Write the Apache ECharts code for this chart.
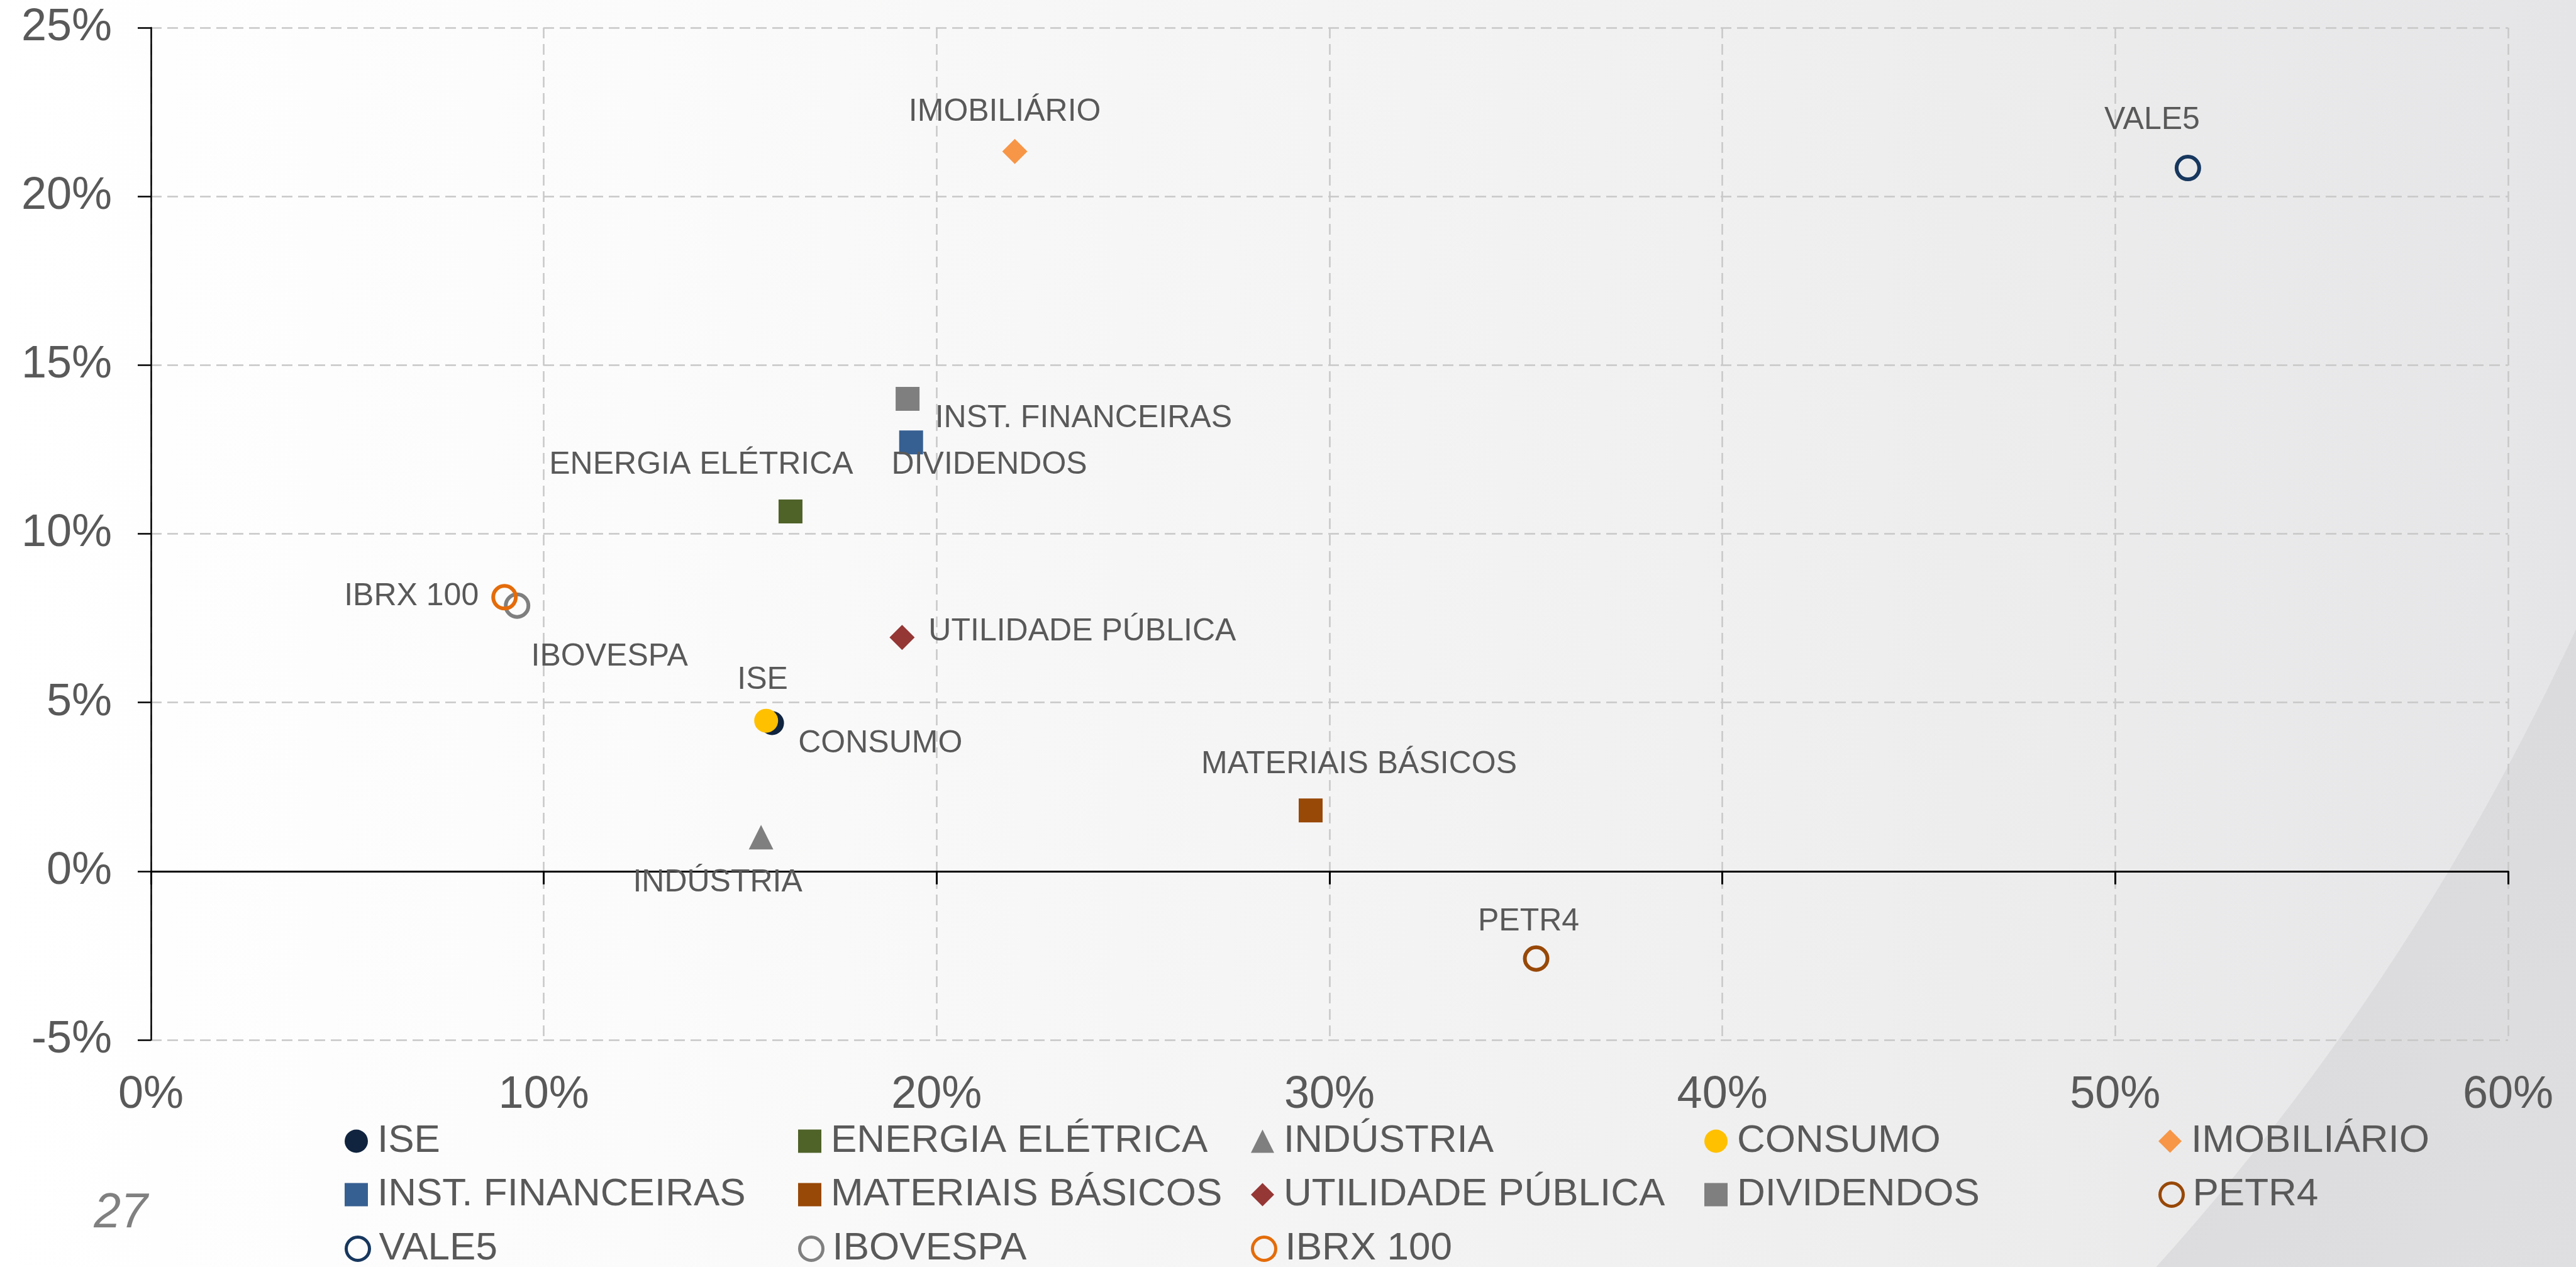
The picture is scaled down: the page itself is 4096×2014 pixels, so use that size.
<!DOCTYPE html>
<html lang="pt">
<head>
    <meta charset="UTF-8">
    <script src="https://cdn.jsdelivr.net/npm/echarts@6/dist/echarts.min.js"></script>
    <style>
        html, body { margin: 0; padding: 0; background: #ffffff; }
        #chart { width: 4096px; height: 2014px; }
    </style>
</head>
<body>
<div id="chart"></div>
<script>
    // dados: risco (eixo x, %) e retorno (eixo y, %)
    var names = ['ISE', 'ENERGIA ELÉTRICA', 'INDÚSTRIA', 'CONSUMO', 'IMOBILIÁRIO',
                 'INST. FINANCEIRAS', 'MATERIAIS BÁSICOS', 'UTILIDADE PÚBLICA', 'DIVIDENDOS', 'PETR4',
                 'VALE5', 'IBOVESPA', 'IBRX 100'];
    var riskX   = [15.81, 16.28, 15.53, 15.66, 21.99, 19.35, 29.52, 19.12, 19.26, 35.26, 51.85, 9.32, 9.00];
    var returnY = [4.39, 10.66, 1.01, 4.46, 21.33, 12.71, 1.80, 6.93, 14.00, -2.59, 20.84, 7.87, 8.12];

    // escalas dos eixos
    var xMin = 0, xMax = 60, xStep = 10;
    var yMin = -5, yMax = 25, yStep = 5;
    var pageNumber = '27';

    // estilo de cada serie
    var colors  = ['#10243f', '#4f6228', '#7f7f7f', '#ffc000', '#f79646',
                   '#376092', '#984807', '#953735', '#7f7f7f', '#984807',
                   '#17375e', '#7f7f7f', '#e46c0a'];
    var symbols = ['circle', 'rect', 'triangle', 'circle', 'diamond',
                   'rect', 'rect', 'diamond', 'rect', 'circle',
                   'circle', 'circle', 'circle'];
    var hollow  = [false, false, false, false, false,
                   false, false, false, false, true,
                   true, true, true];
    var sizes   = [38, 38, 39, 38, 40, 38, 38, 40, 38, 36, 36, 36, 36];
    // posicao dos rotulos: [align, dx, dy] a partir do centro do ponto
    var labelPos = [
        ['center', -15, -68],
        ['center', -142, -74],
        ['center', -69, 73],
        ['left', 51, 37],
        ['center', -16, -63],
        ['left', 38, -38],
        ['center', 77, -73],
        ['left', 42, -9],
        ['center', 130, 105],
        ['center', -12, -59],
        ['center', -57, -76],
        ['center', 147, 81],
        ['right', -41, -1]
    ];

    var FONT = '"Liberation Sans", Arial, sans-serif';
    var TEXT = '#595959';

    function styleFor(i, bw) {
        if (hollow[i]) {
            return { color: 'rgba(0,0,0,0)', borderColor: colors[i], borderWidth: bw, opacity: 1 };
        }
        return { color: colors[i], borderWidth: 0, opacity: 1 };
    }

    var series = names.map(function (n, i) {
        return {
            name: n,
            type: 'scatter',
            data: [[riskX[i], returnY[i]]],
            symbol: symbols[i],
            symbolSize: sizes[i],
            itemStyle: styleFor(i, 6),
            label: {
                show: true,
                formatter: n,
                position: 'inside',
                align: labelPos[i][0],
                verticalAlign: 'middle',
                offset: [labelPos[i][1], labelPos[i][2]],
                fontSize: 50,
                fontFamily: FONT,
                color: TEXT,
                opacity: 1,
                textBorderWidth: 0
            },
            emphasis: { disabled: true }
        };
    });

    // legenda: grade de 5 colunas x 3 linhas, um item por legenda
    var legendLeft = [548, 1269, 1989, 2710, 3432];
    var legendTop = [1783, 1868, 1954];
    var legends = names.map(function (n, k) {
        return {
            orient: 'horizontal',
            left: legendLeft[k % 5],
            top: legendTop[Math.floor(k / 5)],
            padding: 0,
            itemWidth: 37,
            itemHeight: 37,
            itemGap: 0,
            selectedMode: false,
            textStyle: {
                fontSize: 62,
                lineHeight: 62,
                fontFamily: FONT,
                color: TEXT,
                padding: [0, 0, 0, 10]
            },
            data: [{ name: n, icon: symbols[k], itemStyle: styleFor(k, 5) }]
        };
    });

    var gridLine = { color: '#c8c8c8', width: 2.5, type: [17, 9] };

    var option = {
        animation: false,
        textStyle: { fontFamily: FONT },
        graphic: [
            {
                type: 'rect', silent: true, z: -100,
                shape: { x: 0, y: 0, width: 4096, height: 2014 },
                style: { fill: new echarts.graphic.LinearGradient(3300, 1000, 4096, 2014, [
                    { offset: 0, color: '#d8d8da' },
                    { offset: 1, color: '#dfdfe1' }
                ], true) }
            },
            {
                type: 'circle', silent: true, z: -99,
                shape: { cx: 450, cy: -674, r: 4012 },
                style: { fill: new echarts.graphic.LinearGradient(0, 0, 4096, 0, [
                    { offset: 0, color: '#ffffff' },
                    { offset: 0.25, color: '#fbfbfb' },
                    { offset: 0.55, color: '#f3f3f4' },
                    { offset: 0.8, color: '#ececed' },
                    { offset: 1, color: '#e5e5e7' }
                ], true) }
            },
            {
                type: 'text', silent: true, z: 10,
                x: 192, y: 1930,
                style: {
                    text: pageNumber,
                    align: 'center',
                    verticalAlign: 'middle',
                    fontSize: 77,
                    fontStyle: 'italic',
                    fontFamily: FONT,
                    fill: '#808080'
                }
            }
        ],
        grid: {
            left: 240,
            right: 108,
            top: 44,
            bottom: 361,
            containLabel: false,
            outerBoundsMode: 'none'
        },
        legend: legends,
        xAxis: [
            {
                type: 'value',
                min: xMin, max: xMax, interval: xStep,
                position: 'bottom',
                axisLine: { show: true, onZero: true, lineStyle: { color: '#000000', width: 3 } },
                axisTick: { show: true, length: 21, lineStyle: { color: '#000000', width: 3 } },
                axisLabel: { show: false },
                splitLine: { show: true, lineStyle: gridLine }
            },
            {
                type: 'value',
                min: xMin, max: xMax, interval: xStep,
                position: 'bottom',
                axisLine: { show: false, onZero: false },
                axisTick: { show: false },
                splitLine: { show: false },
                axisLabel: {
                    show: true,
                    margin: 52,
                    fontSize: 72,
                    fontFamily: FONT,
                    color: TEXT,
                    formatter: '{value}%'
                }
            }
        ],
        yAxis: {
            type: 'value',
            min: yMin, max: yMax, interval: yStep,
            axisLine: { show: true, onZero: false, lineStyle: { color: '#000000', width: 2.5 } },
            axisTick: { show: true, length: 21, lineStyle: { color: '#000000', width: 2.5 } },
            axisLabel: {
                margin: 62,
                fontSize: 72,
                fontFamily: FONT,
                color: TEXT,
                formatter: '{value}%'
            },
            splitLine: { show: true, lineStyle: gridLine }
        },
        series: series
    };

    var chart = echarts.init(document.getElementById('chart'));
    chart.setOption(option);
</script>
</body>
</html>
